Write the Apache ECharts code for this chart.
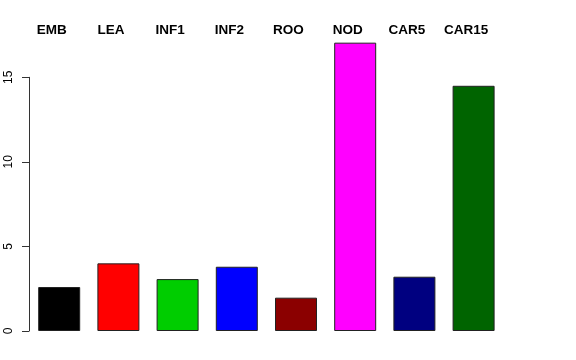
<!DOCTYPE html>
<html><head><meta charset="utf-8">
<script src="https://cdn.jsdelivr.net/npm/echarts@6/dist/echarts.min.js"></script>
<style>html,body{margin:0;padding:0;background:#fff}#c{width:576px;height:360px}</style>
</head><body><div id="c"></div>
<script>
const categories = ["EMB","LEA","INF1","INF2","ROO","NOD","CAR5","CAR15"];
const values = [2.6, 4.0, 3.07, 3.8, 1.97, 17.05, 3.21, 14.5];
const barColors = ["#000000","#FF0000","#00CD00","#0000FF","#8B0000","#FF00FF","#000080","#006400"];
const yTicks = [0, 5, 10, 15];

const chart = echarts.init(document.getElementById('c'), null, {renderer:'canvas'});
const FONT = '"Liberation Sans", Arial, Helvetica, sans-serif';
chart.setOption({
  animation: false,
  backgroundColor: '#ffffff',
  grid: [
    {left: 29.6, width: 473.6, top: 26.6, bottom: 29},
    {left: 29, width: 473.6, top: 77.3, bottom: 29}
  ],
  xAxis: [
    {type: 'category', gridIndex: 0, data: categories, position: 'top', boundaryGap: true,
     axisLine: {show: false}, axisTick: {show: false}, splitLine: {show: false},
     axisLabel: {show: true, interval: 0, fontFamily: FONT, fontWeight: 'bold', fontSize: 13.5,
       color: '#000', verticalAlign: 'middle', margin: -3.5, padding: [0, 15, 0, 0]}},
    {type: 'category', gridIndex: 1, data: categories, show: false}
  ],
  yAxis: [
    {type: 'value', gridIndex: 0, min: 0, max: 18, show: false, splitLine: {show: false}},
    {type: 'value', gridIndex: 1, min: 0, max: 15, interval: 5,
     axisLine: {show: true, lineStyle: {color: '#333', width: 1}},
     axisTick: {show: true, length: 7, lineStyle: {color: '#333'}},
     splitLine: {show: false},
     axisLabel: {rotate: 90, margin: 14, fontFamily: FONT, fontSize: 12, color: '#000',
       formatter: v => yTicks.includes(v) ? String(v) : ''}}
  ],
  series: [
    {type: 'bar', xAxisIndex: 0, yAxisIndex: 0, barWidth: 42,
     data: values.map((v, i) => ({value: v, itemStyle: {color: barColors[i]}})),
     itemStyle: {borderColor: '#222', borderWidth: 1}},
    {type: 'bar', xAxisIndex: 1, yAxisIndex: 1, data: []}
  ]
});
</script></body></html>
